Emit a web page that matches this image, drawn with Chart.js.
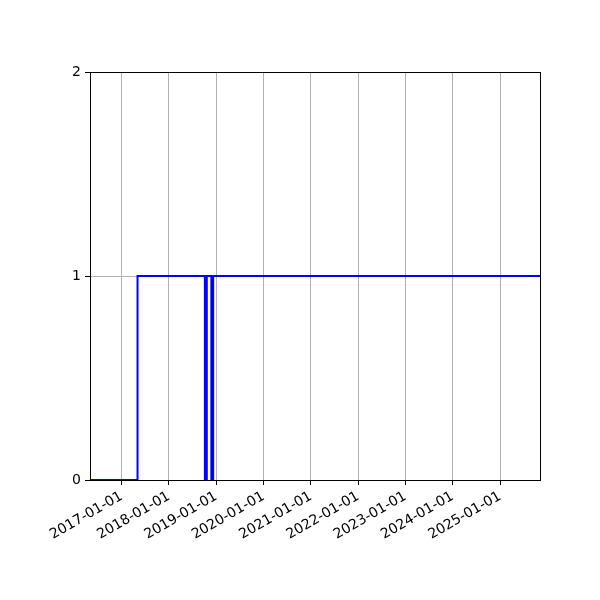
<!DOCTYPE html>
<html>
<head>
<meta charset="utf-8">
<script src="https://cdn.jsdelivr.net/npm/chart.js@4/dist/chart.umd.min.js"></script>
<style>
  body { margin: 0; background: #fff; }
  #wrap { width: 600px; height: 600px; }
</style>
</head>
<body>
<div id="wrap"><canvas id="stepChart"></canvas></div>
<script>
// dates where the state changes, and the state from that date on
const changeDates = ['2016-05-01', '2017-05-03', '2018-10-05', '2018-10-20', '2018-11-24', '2018-12-08', '2025-11-05'];
const stateValues = [0, 1, 0, 1, 0, 1, 1];
const xTickLabels = ['2017-01-01', '2018-01-01', '2019-01-01', '2020-01-01', '2021-01-01',
                     '2022-01-01', '2023-01-01', '2024-01-01', '2025-01-01'];
const yTickValues = [0, 1, 2];

const xMin = Date.parse(changeDates[0]);
const xMax = Date.parse(changeDates[changeDates.length - 1]);

// black frame on all four sides, like the axes box
const frame = {
    id: 'frame',
    afterDraw(chart) {
        const a = chart.chartArea, c = chart.ctx;
        c.save();
        c.strokeStyle = '#000';
        c.lineWidth = 1;
        c.strokeRect(Math.round(a.left) + 0.5, Math.round(a.top) + 0.5,
                     Math.round(a.right - a.left), Math.round(a.bottom - a.top));
        c.restore();
    }
};

const ctx = document.getElementById('stepChart').getContext('2d');
const stepChart = new Chart(ctx, {
    type: 'line',
    data: {
        datasets: [{
            data: changeDates.map((d, i) => ({ x: Date.parse(d), y: stateValues[i] })),
            borderColor: '#0000ff',
            borderWidth: 2,
            stepped: 'before',
            pointRadius: 0,
            fill: false
        }]
    },
    options: {
        responsive: true,
        maintainAspectRatio: false,
        animation: false,
        layout: { padding: { left: 0, top: 72, right: 60, bottom: 0 } },
        plugins: { legend: { display: false }, tooltip: { enabled: false } },
        scales: {
            x: {
                type: 'linear',
                min: xMin,
                max: xMax,
                afterBuildTicks: function(scale) {
                    scale.ticks = xTickLabels.map(s => ({ value: Date.parse(s) }));
                },
                afterFit: function(scale) { scale.height = 120; },
                grid: { color: '#b0b0b0', lineWidth: 1, tickColor: '#000', tickLength: 5 },
                border: { color: '#000' },
                ticks: {
                    minRotation: 30,
                    maxRotation: 30,
                    autoSkip: false,
                    padding: 3,
                    color: '#000',
                    font: { family: 'DejaVu Sans', size: 14 },
                    callback: function(v) { return new Date(v).toISOString().slice(0, 10); }
                }
            },
            y: {
                min: 0,
                max: 2,
                afterBuildTicks: function(scale) {
                    scale.ticks = yTickValues.map(v => ({ value: v }));
                },
                afterFit: function(scale) { scale.width = 90; },
                grid: { color: '#b0b0b0', lineWidth: 1, tickColor: '#000', tickLength: 5 },
                border: { color: '#000' },
                ticks: {
                    padding: 4,
                    color: '#000',
                    font: { family: 'DejaVu Sans', size: 14 }
                }
            }
        }
    },
    plugins: [frame]
});
</script>
</body>
</html>
